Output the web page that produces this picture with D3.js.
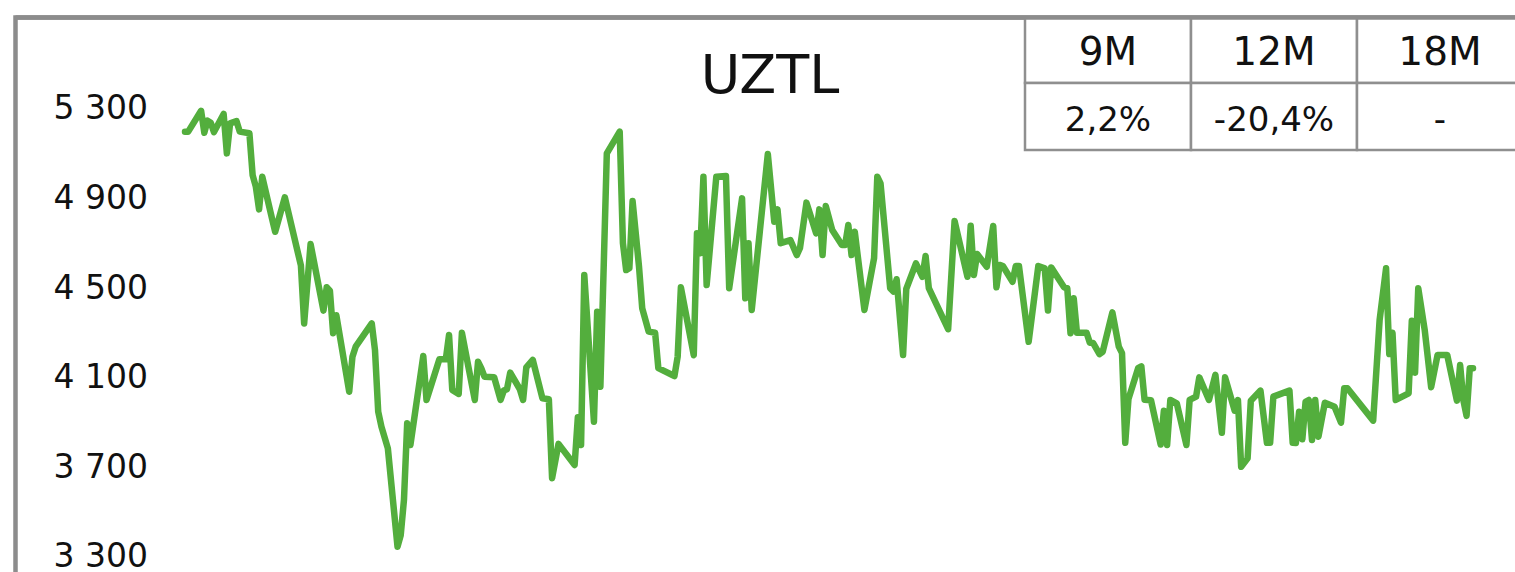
<!DOCTYPE html>
<html>
  <head>
    <meta charset="utf-8">
    <title>UZTL</title>
    <script src="https://d3js.org/d3.v7.min.js"></script>
    <style>
      body { margin: 0; background: #fff; }
      text { font-family: "DejaVu Sans", sans-serif; fill: #111; }
    </style>
  </head>
  <body>
    <script>
      var title = "UZTL";

      // trading-day offset and closing price
      var days = [0,1,5,6,7,8,9,12,13,14,
        16,17,20,21,22,23,24,27,28,31,
        36,37,39,43,44,45,46,47,51,52,
        53,58,59,60,61,63,66,67,68,69,
        70,74,75,79,81,82,83,85,86,88,
        90,91,92,93,96,98,99,100,101,104,
        105,106,108,111,113,114,116,121,122,123,
        124,127,128,129,131,135,136,137,138,139,
        141,142,144,146,147,152,153,154,158,159,
        160,161,162,165,168,169,173,174,175,176,
        181,183,184,185,188,190,191,193,196,197,
        198,199,201,204,205,206,207,208,211,214,
        215,216,219,220,221,223,224,227,229,230,
        231,237,239,243,244,245,246,249,251,252,
        253,254,257,258,259,262,265,267,268,269,
        273,274,275,276,277,280,281,282,284,285,
        288,290,291,292,293,296,297,298,300,303,
        304,305,306,308,311,312,314,315,318,320,
        322,323,326,327,328,330,331,334,336,337,
        338,343,344,345,346,347,348,349,350,351,
        352,354,357,359,360,361,369,371,373,374,
        375,376,380,381,382,383,385,387,389,392,
        395,396,397,398,399,400];

      var prices = [5190,5190,5283,5185,5239,5230,5188,5269,5093,5227,
        5237,5190,5183,4996,4944,4843,4989,4803,4743,4897,
        4592,4334,4688,4391,4495,4480,4290,4370,4029,4185,
        4230,4334,4215,3940,3873,3776,3337,3389,3546,3888,
        3791,4188,3992,4174,4174,4282,4037,4019,4292,4141,
        3992,4163,4134,4096,4094,3992,4034,4040,4114,4040,
        3992,4138,4171,4000,3995,3643,3796,3702,3915,3791,
        4550,3895,4386,4051,5093,5190,4692,4572,4580,4880,
        4587,4401,4297,4292,4134,4099,4185,4495,4192,4736,
        4647,4989,4505,4989,4992,4491,4892,4446,4692,4394,
        5090,4788,4843,4692,4706,4639,4671,4873,4736,4843,
        4639,4858,4751,4684,4684,4773,4639,4743,4394,4625,
        4989,4959,4491,4476,4531,4193,4488,4602,4542,4635,
        4491,4308,4791,4542,4770,4550,4644,4587,4769,4495,
        4595,4590,4520,4590,4590,4252,4590,4580,4391,4584,
        4495,4491,4290,4446,4292,4292,4248,4247,4197,4207,
        4383,4230,4201,3801,3996,4134,4142,3993,3991,3793,
        3944,3791,3992,3977,3791,3992,4007,4093,3992,4104,
        3846,4093,3944,3992,3694,3732,3989,4034,3801,3801,
        4007,4034,3801,3800,3940,3817,3984,3992,3813,3992,
        3828,3980,3962,3891,4044,4044,3900,4349,4580,4197,
        4292,3992,4022,4346,4114,4491,4305,4049,4193,4193,
        3989,4148,3992,3921,4134,4134];

      var yTicks = [3300, 3700, 4100, 4500, 4900, 5300];

      var periods = ["9M", "12M", "18M"];
      var returns = ["2,2%", "-20,4%", "-"];

      var width = 1515;
      var height = 572;

      var svg = d3.select("body").append("svg")
        .attr("width", width).attr("height", height);

      // outer frame (right and bottom run off the picture)
      svg.append("rect")
        .attr("x", 15.5).attr("y", 17.5)
        .attr("width", 1700).attr("height", 800)
        .attr("fill", "none")
        .attr("stroke", "#8c8c8c")
        .attr("stroke-width", 4.5);

      var x = d3.scaleLinear()
        .domain([0, d3.max(days)])
        .range([185, 1473]);

      var y = d3.scaleLinear()
        .domain([3300, 5300])
        .range([555, 107]);

      var axisY = d3.axisLeft(y)
        .tickValues(yTicks)
        .tickSize(0)
        .tickPadding(0)
        .tickFormat(function(d) { return d3.format(",")(d).replace(",", " "); });

      var gy = svg.append("g")
        .attr("transform", "translate(148,0)")
        .call(axisY);
      gy.select(".domain").remove();
      gy.selectAll("text")
        .attr("font-size", 33)
        .attr("font-family", "DejaVu Sans, sans-serif")
        .attr("fill", "#111")
        .attr("dy", "0.36em");

      var line = d3.line()
        .x(function(d, i) { return x(days[i]); })
        .y(function(d) { return y(d); });

      svg.append("path")
        .datum(prices)
        .attr("d", line)
        .attr("fill", "none")
        .attr("stroke", "#53ae3d")
        .attr("stroke-width", 6.5)
        .attr("stroke-linejoin", "round")
        .attr("stroke-linecap", "round");

      svg.append("text")
        .attr("x", 770).attr("y", 93)
        .attr("text-anchor", "middle")
        .attr("font-size", 54)
        .text(title);

      // returns table in the top right corner
      var colX = d3.scaleBand()
        .domain(periods)
        .range([1025, 1523]);
      var rowTop = [17.5, 83];
      var rowBottom = 150;

      var table = svg.append("g");
      table.selectAll("rect.cell")
        .data(periods.concat(periods))
        .enter()
        .append("rect")
        .attr("class", "cell")
        .attr("x", function(d) { return colX(d); })
        .attr("y", function(d, i) { return i < 3 ? rowTop[0] : rowTop[1]; })
        .attr("width", colX.bandwidth())
        .attr("height", function(d, i) { return i < 3 ? rowTop[1] - rowTop[0] : rowBottom - rowTop[1]; })
        .attr("fill", "#fff")
        .attr("stroke", "#8f8f8f")
        .attr("stroke-width", 2.5);

      // frame top line redrawn over the table
      svg.append("line")
        .attr("x1", 15.5).attr("x2", 1515)
        .attr("y1", 17.5).attr("y2", 17.5)
        .attr("stroke", "#8c8c8c")
        .attr("stroke-width", 4.5);

      table.selectAll("text.head")
        .data(periods)
        .enter()
        .append("text")
        .attr("class", "head")
        .attr("x", function(d) { return colX(d) + colX.bandwidth() / 2; })
        .attr("y", 65)
        .attr("text-anchor", "middle")
        .attr("font-size", 39)
        .text(function(d) { return d; });

      table.selectAll("text.val")
        .data(returns)
        .enter()
        .append("text")
        .attr("class", "val")
        .attr("x", function(d, i) { return colX(periods[i]) + colX.bandwidth() / 2; })
        .attr("y", 131)
        .attr("text-anchor", "middle")
        .attr("font-size", 34)
        .text(function(d) { return d; });
    </script>
  </body>
</html>
